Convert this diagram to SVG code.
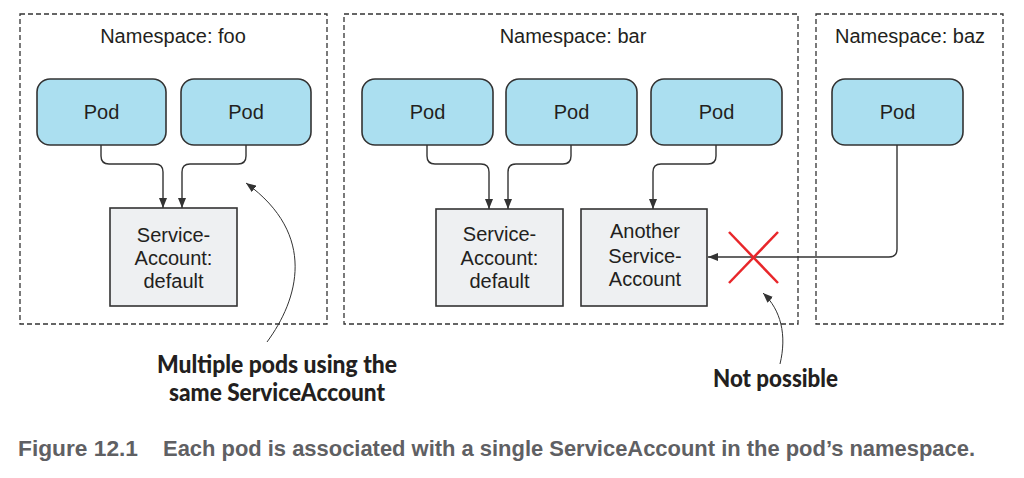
<svg xmlns="http://www.w3.org/2000/svg" width="1024" height="478" viewBox="0 0 1024 478">
<style>
.ns{fill:none;stroke:#333;stroke-width:1.3;stroke-dasharray:5,3}
.pod{fill:#abdff0;stroke:#333;stroke-width:1.6}
.sa{fill:#eef0f2;stroke:#333;stroke-width:1.6}
.t{font-family:"Liberation Sans",Arial,sans-serif;font-size:20px;fill:#231f20;text-anchor:middle}
.conn{fill:none;stroke:#333;stroke-width:1.4}
.note{fill:none;stroke:#333;stroke-width:1}
.ann{font-family:Lato,"Open Sans",sans-serif;font-weight:900;font-size:24px;fill:#231f20;text-anchor:middle}
.cap{font-family:"Liberation Sans",Arial,sans-serif;font-weight:bold;font-size:22px;fill:#5f6063}
</style>
<defs>
<marker id="arr" viewBox="0 0 10 8" refX="10" refY="4" markerWidth="10" markerHeight="8" markerUnits="userSpaceOnUse" orient="auto"><path d="M0,0 L10,4 L0,8 z" fill="#333"/></marker>
<marker id="arrs" viewBox="0 0 10 8" refX="10" refY="4" markerWidth="10" markerHeight="8" markerUnits="userSpaceOnUse" orient="auto"><path d="M0,0 L10,4 L0,8 z" fill="#333"/></marker>
</defs>

<g id="ns-foo">
<rect class="ns" x="20" y="14" width="307" height="310"/>
<text class="t" x="173" y="43">Namespace: foo</text>
</g>
<g id="ns-bar">
<rect class="ns" x="344" y="14" width="454" height="310"/>
<text class="t" x="573" y="43">Namespace: bar</text>
</g>
<g id="ns-baz">
<rect class="ns" x="816" y="14" width="187" height="310"/>
<text class="t" x="910" y="43">Namespace: baz</text>
</g>

<g id="foo-pod1"><rect class="pod" x="37" y="79" width="129" height="66" rx="13"/><text class="t" x="101.5" y="119">Pod</text></g>
<g id="foo-pod2"><rect class="pod" x="181" y="79" width="130" height="66" rx="13"/><text class="t" x="246" y="119">Pod</text></g>
<g id="bar-pod1"><rect class="pod" x="362" y="79" width="131" height="66" rx="13"/><text class="t" x="427.5" y="119">Pod</text></g>
<g id="bar-pod2"><rect class="pod" x="506" y="79" width="131" height="66" rx="13"/><text class="t" x="571.5" y="119">Pod</text></g>
<g id="bar-pod3"><rect class="pod" x="651" y="79" width="131" height="66" rx="13"/><text class="t" x="716.5" y="119">Pod</text></g>
<g id="baz-pod"><rect class="pod" x="832" y="79" width="131" height="66" rx="13"/><text class="t" x="897.5" y="119">Pod</text></g>

<g id="foo-sa"><rect class="sa" x="110" y="208" width="127" height="98"/>
<text class="t" x="173.5" y="242">Service-</text><text class="t" x="173.5" y="265">Account:</text><text class="t" x="173.5" y="288">default</text></g>
<g id="bar-sa"><rect class="sa" x="436" y="209" width="127" height="97"/>
<text class="t" x="499.5" y="241">Service-</text><text class="t" x="499.5" y="265">Account:</text><text class="t" x="499.5" y="288">default</text></g>
<g id="bar-another-sa"><rect class="sa" x="581" y="209" width="126" height="97"/>
<text class="t" x="645" y="238">Another</text><text class="t" x="645" y="263">Service-</text><text class="t" x="645" y="286">Account</text></g>

<g id="connectors">
<path class="conn" marker-end="url(#arr)" d="M101,145 V156 Q101,164 109,164 H155 Q163,164 163,172 V208"/>
<path class="conn" marker-end="url(#arr)" d="M246,145 V156 Q246,164 238,164 H190 Q182,164 182,172 V208"/>
<path class="conn" marker-end="url(#arr)" d="M427,145 V156 Q427,164 435,164 H481 Q489,164 489,172 V209"/>
<path class="conn" marker-end="url(#arr)" d="M571,145 V156 Q571,164 563,164 H516 Q508,164 508,172 V209"/>
<path class="conn" marker-end="url(#arr)" d="M716,145 V156 Q716,164 708,164 H661 Q653,164 653,172 V209"/>
<path class="conn" marker-end="url(#arr)" d="M897,145 V249 Q897,257 889,257 H708"/>
<path class="note" marker-end="url(#arrs)" d="M267,342 C298,300 318,235 246,183"/>
<path class="note" marker-end="url(#arrs)" d="M780,364 C787,335 781,310 763,293"/>
</g>

<g id="not-possible-x">
<line x1="729" y1="232" x2="778" y2="283" stroke="#e8262a" stroke-width="2.5"/>
<line x1="778" y1="232" x2="729" y2="283" stroke="#e8262a" stroke-width="2.5"/>
</g>

<g id="annotations">
<text class="ann" x="277" y="373" textLength="240" lengthAdjust="spacingAndGlyphs">Multiple pods using the</text>
<text class="ann" x="277" y="401" textLength="216" lengthAdjust="spacingAndGlyphs">same ServiceAccount</text>
<text class="ann" x="775.5" y="387" textLength="125" lengthAdjust="spacingAndGlyphs">Not possible</text>
</g>

<g id="caption">
<text class="cap" x="18" y="456" textLength="120" lengthAdjust="spacingAndGlyphs">Figure 12.1</text>
<text class="cap" x="163" y="456" textLength="812" lengthAdjust="spacingAndGlyphs">Each pod is associated with a single ServiceAccount in the pod’s namespace.</text>
</g>
</svg>
